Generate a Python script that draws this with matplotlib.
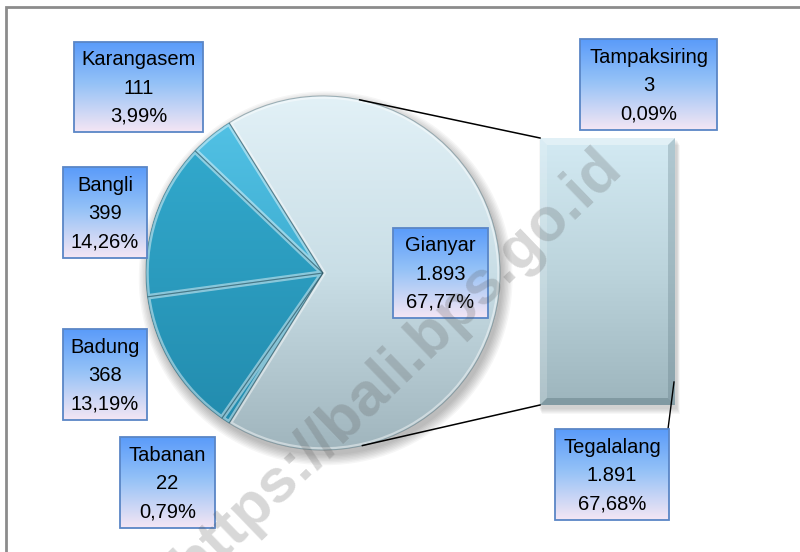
import numpy as np
import matplotlib
matplotlib.use('Agg')
import matplotlib.pyplot as plt
from matplotlib.patches import Rectangle, Circle, Wedge
import matplotlib.colors as mcolors

plt.rcParams['font.family'] = ['Liberation Sans', 'DejaVu Sans']

# ---------------- data ----------------
districts = ['Gianyar', 'Karangasem', 'Bangli', 'Badung', 'Tabanan']
counts = [1893, 111, 399, 368, 22]
pct_labels = ['67,77%', '3,99%', '14,26%', '13,19%', '0,79%']
sub_names = ['Tegalalang', 'Tampaksiring']
sub_counts = [1891, 3]
sub_pct = ['67,68%', '0,09%']
watermark = 'https://bali.bps.go.id'

W, H = 800, 552
fig = plt.figure(figsize=(8, 5.52), dpi=100)


def fig_rect(x0, y0, x1, y1):
    return [x0 / W, 1 - y1 / H, (x1 - x0) / W, (y1 - y0) / H]


def grad(stops, n=256):
    t = np.linspace(0, 1, n)
    pos = [s[0] for s in stops]
    cols = np.array([mcolors.to_rgb(s[1]) for s in stops])
    out = np.stack([np.interp(t, pos, cols[:, k]) for k in range(3)], axis=1)
    return out[:, None, :]


def fmt(v):
    return f"{v:,}".replace(',', '.')


# background axes (pixel coords, y down)
ax_bg = fig.add_axes([0, 0, 1, 1], zorder=0)
ax_bg.set_xlim(0, W); ax_bg.set_ylim(H, 0); ax_bg.axis('off')
ax_bg.plot([6, 6, W + 5], [H + 5, 7, 7], color='#8c8c8c', lw=2.0,
           solid_joinstyle='miter', solid_capstyle='butt')

# ---------------- pie ----------------
PCX, PCY, PR = 323, 273, 177
half = 205
ax_pie = fig.add_axes(fig_rect(PCX - half, PCY - half, PCX + half, PCY + half), zorder=1)
frac0 = counts[0] / sum(counts)
start = -360 * frac0 / 2
base_colors = ['#c4dde6', '#3cb1d3', '#2e9fbf', '#2b99b9', '#2d9dbd']
wedges, _ = ax_pie.pie(counts, startangle=start, counterclock=True,
                       colors=base_colors, radius=1,
                       wedgeprops=dict(edgecolor='none'))
# shadow
for k in range(8):
    ax_pie.add_patch(Circle((0.015, -0.03), 1.0 + 0.008 * k, color='black',
                            alpha=0.035, zorder=0.5, lw=0))
grads = [
    grad([(0, '#e2f1f7'), (0.5, '#c9dee6'), (1, '#a0b5bd')]),
    grad([(0, '#55c4e8'), (1, '#2898ba')]),
    grad([(0, '#35aed2'), (1, '#2189ab')]),
    grad([(0, '#35aed2'), (1, '#2189ab')]),
    grad([(0, '#35aed2'), (1, '#2189ab')]),
]
for w, g in zip(wedges, grads):
    im = ax_pie.imshow(g, extent=(-1, 1, -1, 1), origin='upper', aspect='auto',
                       zorder=1.5, interpolation='bilinear')
    im.set_clip_path(w)
    hl = Wedge(w.center, w.r, w.theta1, w.theta2, facecolor='none',
               edgecolor=(1, 1, 1, 0.45), lw=4, zorder=1.6)
    ax_pie.add_patch(hl)
    hl.set_clip_path(w)
    ax_pie.add_patch(Wedge(w.center, w.r, w.theta1, w.theta2, facecolor='none',
                           edgecolor=(0.1, 0.25, 0.3, 0.35), lw=0.8, zorder=1.7))
lim = half / PR
ax_pie.set_xlim(-lim, lim); ax_pie.set_ylim(-lim, lim)
ax_pie.set_aspect('equal'); ax_pie.axis('off')

# ---------------- bar ----------------
BX0, BY0, BX1, BY1 = 540, 138, 675, 405
for k in range(6):
    ax_bg.add_patch(Rectangle((BX0 - 1 + k * 0.5, BY0 + 2 + k), BX1 - BX0 + 3, BY1 - BY0 + 2,
                              color='black', alpha=0.03, lw=0))
ax_bar = fig.add_axes(fig_rect(BX0, BY0, BX1, BY1), zorder=2)
total_sub = sum(sub_counts)
bottoms = np.concatenate([[0], np.cumsum(sub_counts)[:-1]])
bars = ax_bar.bar([0] * len(sub_counts), sub_counts, bottom=bottoms, width=1.0,
                  color=['#b9d3dc', '#cfe6ee'], edgecolor='none')
bg = grad([(0, '#d3eaf3'), (0.5, '#bcd4dc'), (1, '#9db5bd')])
for b in bars:
    im = ax_bar.imshow(bg, extent=(-0.5, 0.5, 0, total_sub), origin='upper',
                       aspect='auto', zorder=2, interpolation='bilinear')
    im.set_clip_path(b)
ax_bar.set_xlim(-0.5, 0.5); ax_bar.set_ylim(0, total_sub); ax_bar.axis('off')

# ---------------- overlay ----------------
ax = fig.add_axes([0, 0, 1, 1], zorder=3)
ax.set_xlim(0, W); ax.set_ylim(H, 0); ax.axis('off')
ax.patch.set_alpha(0)

bev = 7
ax.fill([BX0, BX1, BX1 - bev, BX0 + bev], [BY0, BY0, BY0 + bev, BY0 + bev],
        color='white', alpha=0.35, lw=0)
ax.fill([BX0, BX0 + bev, BX0 + bev, BX0], [BY0, BY0 + bev, BY1 - bev, BY1],
        color='white', alpha=0.18, lw=0)
ax.fill([BX1, BX1, BX1 - bev, BX1 - bev], [BY0, BY1, BY1 - bev, BY0 + bev],
        color='#4c6670', alpha=0.25, lw=0)
ax.fill([BX0, BX1, BX1 - bev, BX0 + bev], [BY1, BY1, BY1 - bev, BY1 - bev],
        color='#4c6670', alpha=0.35, lw=0)


def tangent_point(px, py, upper):
    dx, dy = px - PCX, -(py - PCY)
    d = np.hypot(dx, dy)
    th = np.arctan2(dy, dx)
    a = np.arccos(PR / d)
    ang = th + a if upper else th - a
    return PCX + PR * np.cos(ang), PCY - PR * np.sin(ang)


for (px, py, up) in [(BX0, BY0, True), (BX0, BY1, False)]:
    tx, ty = tangent_point(px, py, up)
    ax.plot([tx, px], [ty, py], color='black', lw=1.1)

ax.plot([668, 674], [429, 382], color='black', lw=1.0)

box_grad = grad([(0, '#5a9bfa'), (0.45, '#93c1f7'), (1, '#f5e6f4')])


def label_box(x0, y0, x1, y1, text):
    ax.imshow(box_grad, extent=(x0, x1, y1, y0), origin='upper', aspect='auto',
              zorder=4, interpolation='bilinear')
    ax.add_patch(Rectangle((x0, y0), x1 - x0, y1 - y0, facecolor='none',
                           edgecolor='#5a86c6', lw=1.3, zorder=5))
    ax.text((x0 + x1) / 2, (y0 + y1) / 2 + 1, text, ha='center', va='center',
            fontsize=14.5, linespacing=1.62, color='black', zorder=6)


main_boxes = [(393, 228, 488, 318), (74, 42, 203, 132), (63, 167, 147, 258),
              (63, 329, 147, 420), (120, 437, 215, 528)]
for (x0, y0, x1, y1), name, c, p in zip(main_boxes, districts, counts, pct_labels):
    label_box(x0, y0, x1, y1, f"{name}\n{fmt(c)}\n{p}")

sub_boxes = [(555, 429, 669, 520), (580, 39, 717, 130)]
for (x0, y0, x1, y1), name, c, p in zip(sub_boxes, sub_names, sub_counts, sub_pct):
    label_box(x0, y0, x1, y1, f"{name}\n{fmt(c)}\n{p}")

ax.set_xlim(0, W); ax.set_ylim(H, 0)

# watermark
ax.text(398, 366, watermark, rotation=44, rotation_mode='anchor', fontsize=44,
        fontweight='bold', color='#5a5a5a', alpha=0.24, ha='center', va='center',
        zorder=10)

fig.savefig('out.png', dpi=100)
